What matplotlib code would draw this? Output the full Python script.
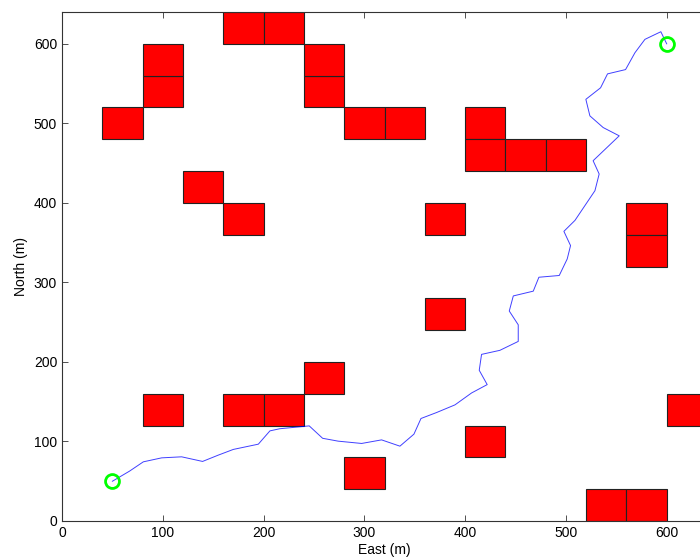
import matplotlib
matplotlib.use("Agg")
import matplotlib.pyplot as plt
from matplotlib.patches import Rectangle

plt.rcParams['font.family'] = ['Liberation Sans', 'DejaVu Sans']

# obstacle lower-left corners (40 x 40 m cells)
obs_x = [40, 80, 80, 160, 200, 240, 240, 280, 320, 400, 400, 440, 480,
         120, 160, 360, 560, 560, 360, 240, 80, 160, 200, 600, 400, 280, 520, 560]
obs_y = [480, 520, 560, 600, 600, 520, 560, 480, 480, 480, 440, 440, 440,
         400, 360, 360, 360, 320, 240, 160, 120, 120, 120, 120, 80, 40, 0, 0]
cell = 40

# path
path_x = [50, 67, 80.7, 98.9, 118.7, 139.5, 155, 170, 194.8, 206.3, 216, 245.3,
          258.6, 274, 297.3, 317.1, 335.3, 349.2, 356.2, 371.7, 389.9, 406.4,
          421.9, 414, 416.3, 434.5, 452.7, 452.7, 443.8, 447.8, 467.6, 473.2,
          493.4, 501.3, 504.6, 498, 509, 528.8, 533, 527, 552.9, 537, 523.8,
          519.8, 534.4, 541.3, 559.2, 568.5, 578.4, 594.2, 600]
path_y = [50, 62.7, 74.4, 79.4, 80.7, 74.9, 82.8, 90, 96.6, 113.3, 116, 119.6,
          104, 100.4, 97.5, 102, 94.1, 109.2, 128.9, 136.4, 146, 161,
          171.5, 189.5, 209.5, 214.6, 225.8, 246.7, 264, 283, 289, 306.5,
          308.7, 329.5, 346.3, 364.2, 378, 415.3, 436.3, 453, 484.3, 494.7, 509.4,
          530.2, 544.7, 562.2, 567.6, 588.8, 605.6, 615.2, 600]

start = (50, 50)
goal = (600, 600)

fig = plt.figure(figsize=(7, 5.6), dpi=100)
ax = fig.add_axes([62/700, 39/560, 645/700, 509/560])

for x0, y0 in zip(obs_x, obs_y):
    ax.add_patch(Rectangle((x0, y0), cell, cell, facecolor='#ff0000',
                           edgecolor='#222222', linewidth=0.8, zorder=2))

ax.plot(path_x, path_y, color='#0000ff', linewidth=0.7, alpha=0.75, zorder=3)
ax.plot([start[0], goal[0]], [start[1], goal[1]], 'o', markerfacecolor='none',
        markeredgecolor='#00ff00', markersize=10, markeredgewidth=2, zorder=4)

ax.set_xlim(0, 640)
ax.set_ylim(0, 640)
ax.set_xticks(range(0, 700, 100))
ax.set_yticks(range(0, 700, 100))
ax.tick_params(direction='in', length=4, width=0.6, labelsize=10, colors='#333333',
               labelcolor='black', top=True, right=True)
for s in ax.spines.values():
    s.set_linewidth(0.8)
    s.set_color('#333333')
ax.set_xlabel('East (m)', fontsize=10, labelpad=2)
ax.set_ylabel('North (m)', fontsize=10, labelpad=4)

fig.savefig('out.png', dpi=100)
